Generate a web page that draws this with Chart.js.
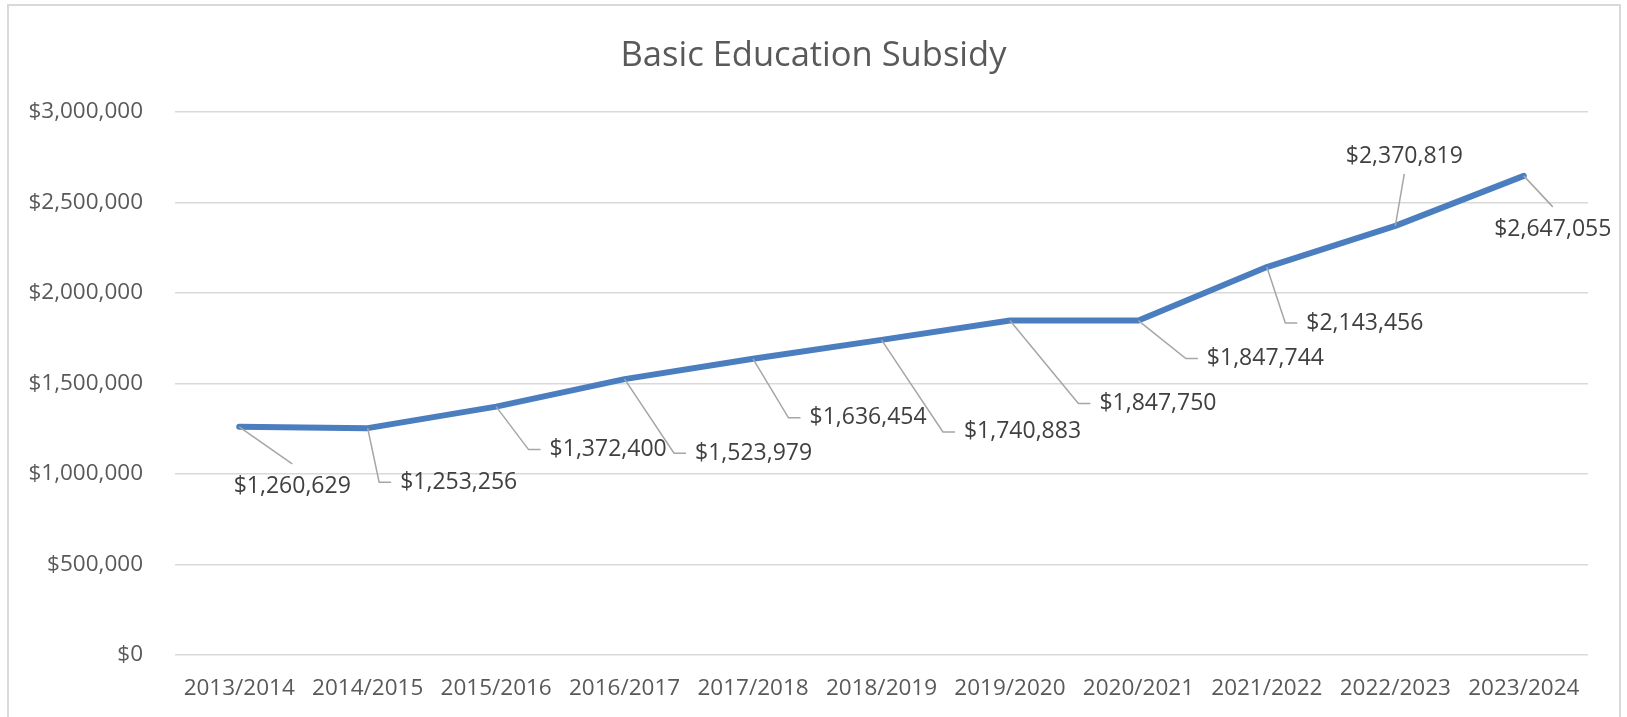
<!DOCTYPE html>
<html lang="en">
<head>
    <meta charset="UTF-8" />
    <title>Basic Education Subsidy</title>
    <script src="https://cdn.jsdelivr.net/npm/chart.js"></script>
    <style>
        body { margin: 0; background: #fff; }
        #wrap { width: 1627px; height: 717px; position: relative; }
    </style>
</head>
<body>

<div id="wrap">
    <canvas id="subsidyChart"></canvas>
</div>

<script>
    // values
    const schoolYears = ['2013/2014', '2014/2015', '2015/2016', '2016/2017', '2017/2018', '2018/2019',
        '2019/2020', '2020/2021', '2021/2022', '2022/2023', '2023/2024'];
    const subsidy = [1260629, 1253256, 1372400, 1523979, 1636454, 1740883,
        1847750, 1847744, 2143456, 2370819, 2647055];
    const yMin = 0;
    const yMax = 3000000;
    const yStep = 500000;

    // where each value label sits relative to its point, and how its leader line attaches
    const labelOffsets = [
        [53, 60, 'top'], [91, 54, 'left'], [112, 43, 'left'], [129, 74, 'left'],
        [115, 59, 'left'], [141, 92, 'left'], [148, 83, 'left'], [127, 38, 'left'],
        [98, 56, 'left'], [9, -69, 'bottom'], [29, 54, 'top']
    ];

    const FONT = '"Open Sans", "Liberation Sans", sans-serif';
    const money = v => '$' + Math.round(v).toLocaleString('en-US');

    // outer frame like the Excel chart area
    const framePlugin = {
        id: 'frame',
        beforeDraw(chart) {
            const ctx = chart.ctx;
            ctx.save();
            ctx.fillStyle = '#fff';
            ctx.fillRect(0, 0, chart.width, chart.height);
            ctx.strokeStyle = '#d9d9d9';
            ctx.lineWidth = 2;
            ctx.strokeRect(8, 5, 1612, chart.height + 20);
            ctx.restore();
        }
    };

    // data labels with leader lines
    const leaderLabels = {
        id: 'leaderLabels',
        afterDatasetsDraw(chart) {
            const ctx = chart.ctx;
            const pts = chart.getDatasetMeta(0).data;
            ctx.save();
            ctx.font = '23px ' + FONT;
            ctx.textAlign = 'center';
            ctx.textBaseline = 'middle';
            pts.forEach((p, i) => {
                const [dx, dy, kind] = labelOffsets[i];
                const text = money(subsidy[i]);
                const cx = p.x + dx, cy = p.y + dy;
                const w = ctx.measureText(text).width;

                ctx.strokeStyle = '#a6a6a6';
                ctx.lineWidth = 1.5;
                ctx.beginPath();
                ctx.moveTo(p.x, p.y);
                if (kind === 'left') {
                    const left = cx - w / 2;
                    ctx.lineTo(left - 21, cy);
                    ctx.lineTo(left - 9, cy);
                } else if (kind === 'top') {
                    ctx.lineTo(cx, cy - 23);
                } else {
                    ctx.lineTo(cx, cy + 17);
                }
                ctx.stroke();

                ctx.fillStyle = '#404040';
                ctx.fillText(text, cx, cy);
            });
            ctx.restore();
        }
    };

    const ctx = document.getElementById('subsidyChart').getContext('2d');
    new Chart(ctx, {
        type: 'line',
        data: {
            labels: schoolYears,
            datasets: [{
                data: subsidy,
                borderColor: '#4a7ebf',
                borderWidth: 6,
                borderCapStyle: 'round',
                borderJoinStyle: 'round',
                pointRadius: 0,
                pointHoverRadius: 0,
                tension: 0,
                fill: false
            }]
        },
        options: {
            responsive: true,
            maintainAspectRatio: false,
            animation: false,
            layout: { padding: 0 },
            plugins: {
                legend: { display: false },
                tooltip: { enabled: false },
                title: {
                    display: true,
                    text: 'Basic Education Subsidy',
                    color: '#595959',
                    font: { family: FONT, size: 34.5, weight: 'normal' },
                    padding: { top: 35, bottom: 35.6 }
                }
            },
            scales: {
                x: {
                    offset: true,
                    grid: { display: false, drawTicks: false },
                    border: { display: false },
                    ticks: {
                        color: '#595959',
                        font: { family: FONT, size: 22.5 },
                        padding: 20,
                        maxRotation: 0,
                        autoSkip: false
                    },
                    afterFit(scale) { scale.height = 62; }
                },
                y: {
                    min: yMin,
                    max: yMax,
                    grid: { color: '#d9d9d9', lineWidth: 1.5, drawTicks: false },
                    border: { display: false },
                    ticks: {
                        stepSize: yStep,
                        color: '#595959',
                        font: { family: FONT, size: 22.5 },
                        padding: 32,
                        callback: v => money(v)
                    },
                    afterFit(scale) { scale.width = 175; }
                },
                // empty right-hand margin so the plot ends where the original does
                spacer: {
                    type: 'linear',
                    position: 'right',
                    grid: { display: false },
                    border: { display: false },
                    ticks: { display: false },
                    afterFit(scale) { scale.width = 39; }
                }
            }
        },
        plugins: [framePlugin, leaderLabels]
    });
</script>

</body>
</html>
